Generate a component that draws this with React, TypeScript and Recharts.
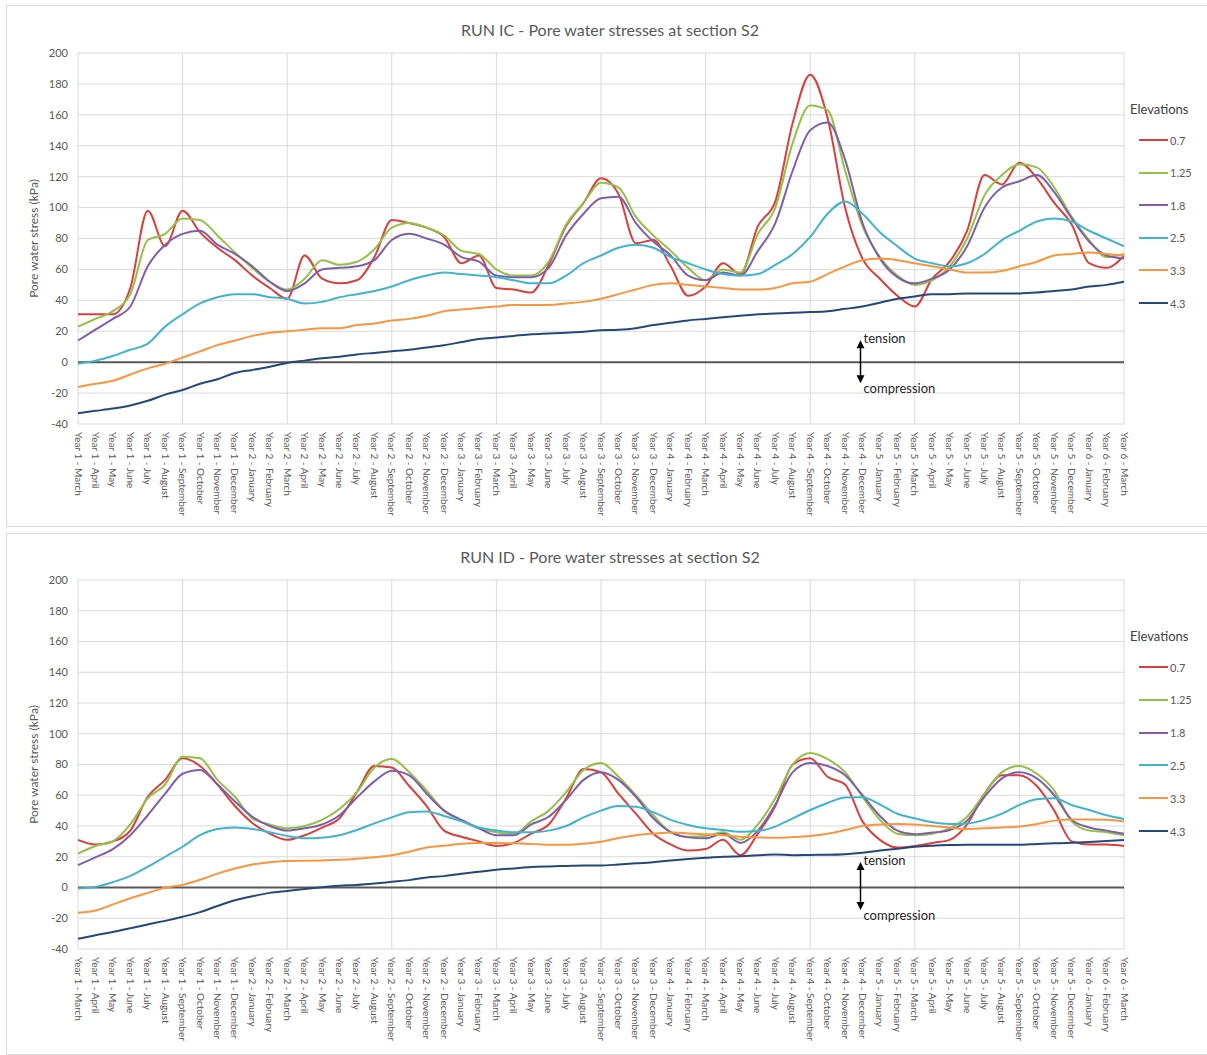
import React from 'react';
import { LineChart, Line, XAxis, YAxis, CartesianGrid, ReferenceLine } from 'recharts';

const FONT = 'Lato, "Liberation Sans", sans-serif';

const MONTH_NAMES = [
  'January', 'February', 'March', 'April', 'May', 'June',
  'July', 'August', 'September', 'October', 'November', 'December',
];

// 61 monthly categories, Year 1 - March .. Year 6 - March
const months: string[] = [];
for (let k = 0; k < 61; k++) {
  const m = (2 + k) % 12;
  const y = 1 + Math.floor((2 + k) / 12);
  months.push(`Year ${y} - ${MONTH_NAMES[m]}`);
}

const ELEVATIONS = ['0.7', '1.25', '1.8', '2.5', '3.3', '4.3'];
const COLORS = ['#d9403c', '#93c047', '#7f5fa9', '#40b4cf', '#f7963f', '#25487a'];
const Y_TICKS = [-40, -20, 0, 20, 40, 60, 80, 100, 120, 140, 160, 180, 200];

// RUN IC
const icE07 = [31, 31, 31, 48, 98, 75, 98, 84, 74, 66, 56, 48, 41, 69, 54, 51, 53, 68, 92, 90, 87, 81, 64, 69, 48, 47, 45, 63, 88, 103, 119, 109, 77, 79, 62, 43, 49, 64, 57, 88, 104, 155, 186, 158, 100, 67, 54, 43, 36, 54, 65, 85, 121, 115, 129, 119, 103, 89, 64, 61, 69];
const icE125 = [23, 28, 33, 44, 79, 83, 93, 92, 82, 71, 61, 52, 47, 54, 66, 63, 65, 73, 87, 90, 87, 82, 72, 70, 60, 56, 56, 65, 89, 103, 116, 113, 94, 82, 72, 61, 53, 60, 58, 83, 100, 142, 166, 163, 124, 88, 68, 56, 50, 53, 62, 80, 108, 121, 128, 126, 113, 94, 79, 68, 70];
const icE18 = [14, 21, 28, 36, 62, 76, 83, 85, 76, 70, 62, 52, 46, 51, 60, 61, 62, 66, 79, 83, 80, 76, 68, 65, 56, 55, 55, 61, 82, 96, 106, 107, 90, 78, 69, 56, 53, 58, 56, 72, 90, 124, 150, 155, 131, 90, 67, 55, 51, 54, 60, 75, 100, 113, 117, 121, 110, 93, 78, 69, 67];
const icE25 = [-1, 1, 4, 8, 12, 23, 31, 38, 42, 44, 44, 42, 41, 38, 39, 42, 44, 46, 49, 53, 56, 58, 57, 56, 55, 53, 51, 51, 56, 64, 69, 74, 76, 74, 68, 64, 60, 57, 56, 57, 63, 70, 81, 96, 104, 96, 84, 75, 67, 64, 62, 64, 70, 79, 85, 91, 93, 91, 85, 80, 75];
const icE33 = [-16, -14, -12, -8, -4, -1, 3, 7, 11, 14, 17, 19, 20, 21, 22, 22, 24, 25, 27, 28, 30, 33, 34, 35, 36, 37, 37, 37, 38, 39, 41, 44, 47, 50, 51, 50, 49, 48, 47, 47, 48, 51, 52, 57, 62, 66, 67, 66, 64, 62, 60, 58, 58, 59, 62, 65, 69, 70, 71, 70, 69];
const icE43 = [-33, -31.5, -30, -28, -25, -21, -18, -14, -11, -7, -5, -3, -0.5, 1, 2.5, 3.5, 5, 6, 7, 8, 9.5, 11, 13, 15, 16, 17, 18, 18.5, 19, 19.6, 20.7, 21, 22, 24, 25.5, 27, 28, 29, 30, 31, 31.5, 32, 32.4, 33, 34.5, 36, 38.5, 41, 42.5, 44, 44, 44.5, 44.5, 44.5, 44.5, 45, 46, 47, 49, 50, 52];

// RUN ID
const idE07 = [31, 28, 30, 37, 59, 70, 84, 79, 67, 53, 42, 35, 31, 34, 39, 45, 62, 79, 78, 66, 53, 37, 33, 30, 27, 29, 35, 41, 58, 77, 75, 61, 48, 35, 28, 24, 25, 31, 21, 35, 53, 80, 84, 72, 67, 43, 31, 26, 27, 29, 31, 41, 61, 73, 73, 66, 50, 30, 28, 28, 27];
const idE125 = [22, 27, 30, 41, 58, 67, 85, 84, 70, 59, 45, 41, 38.5, 40, 44, 51, 62, 78, 83.5, 75, 63, 50, 43.5, 38.5, 36, 35, 43, 50, 62, 76.5, 81, 72, 60, 47, 36, 33, 33.5, 36, 31, 41, 58, 80, 87.5, 83.5, 75, 59, 44, 35, 34, 35, 38.5, 46, 61, 75, 79, 74, 63, 43, 37, 36, 34];
const idE18 = [14.6, 19.6, 25, 34, 47, 61, 74, 76.5, 67, 56, 46, 40, 37, 38.5, 41, 47, 58.5, 69, 76, 73, 61, 50, 44, 38.5, 34, 34, 41, 46, 57, 70, 75, 70, 59, 45, 36, 32.6, 32, 35, 29, 37, 54, 75, 81, 79, 73, 60, 46.5, 37, 34.6, 35.7, 37.4, 43.5, 59, 71, 75, 71, 60, 44, 39, 37, 35];
const idE25 = [-0.6, 0.4, 3.5, 7.6, 13.5, 20, 26.5, 34, 38, 39, 38, 36, 33.5, 32, 32.4, 34, 37.4, 41.7, 45.6, 49, 49.5, 46.5, 43, 39, 37, 36, 36, 37, 40, 45.6, 50, 53, 52.6, 49, 44, 40.7, 38.5, 37.4, 36.3, 36.7, 39.6, 45, 50.4, 55, 58.5, 58.7, 54, 48, 45, 42.4, 41.3, 41.7, 44, 48, 53.7, 57.4, 58, 53.7, 50.4, 47, 44.6];
const idE33 = [-16.5, -15, -11, -7, -3.5, -0.2, 1.7, 5, 9, 12.4, 15, 16.5, 17.2, 17.4, 17.6, 18, 18.7, 19.6, 21, 23.3, 26, 27.2, 28.5, 29, 29, 28.7, 28.3, 27.8, 27.8, 28.5, 29.8, 32.2, 34, 35, 35.7, 35.2, 34.6, 34, 33, 32.6, 32.4, 32.8, 33.5, 35, 37.4, 40, 41, 41.3, 41, 40, 39, 38, 38.5, 39, 39.6, 41.3, 43.5, 44.3, 44.3, 44, 43];
const idE43 = [-33.3, -31, -29, -26.5, -24, -21.7, -19, -16, -12, -8.3, -5.7, -3.5, -2.2, -0.9, 0.2, 1.1, 1.7, 2.6, 3.7, 4.8, 6.5, 7.4, 9, 10.2, 11.5, 12.4, 13.3, 13.7, 14, 14.3, 14.3, 15, 15.7, 16.5, 17.6, 18.5, 19.3, 20, 20.4, 21, 21.5, 21, 21.2, 21.3, 21.7, 22.6, 24, 25.2, 26.5, 27.2, 27.6, 27.8, 27.8, 27.8, 27.8, 28.3, 28.7, 29.1, 29.6, 30.2, 30.9];

const buildRows = (series: number[][]) =>
  months.map((month, i) => {
    const row: Record<string, string | number> = { month };
    ELEVATIONS.forEach((e, k) => { row[e] = series[k][i]; });
    return row;
  });

const icData = buildRows([icE07, icE125, icE18, icE25, icE33, icE43]);
const idData = buildRows([idE07, idE125, idE18, idE25, idE33, idE43]);

const MonthTick = (props: any) => {
  const { x, y, payload } = props;
  return (
    <text
      transform={`translate(${x},${y}) rotate(90)`}
      dy="0.35em"
      textAnchor="start"
      fontSize={10}
      fill="#595959"
      fontFamily={FONT}
    >
      {payload.value}
    </text>
  );
};

const arrowShape = (props: any) => {
  const { x1, y1, y2 } = props;
  const x = x1 - 2;
  const top = Math.min(y1, y2);
  const bot = Math.max(y1, y2);
  return (
    <g>
      <line x1={x} y1={top + 6} x2={x} y2={bot - 6} stroke="#000" strokeWidth={1.5} />
      <polygon points={`${x},${top} ${x - 4},${top + 8} ${x + 4},${top + 8}`} fill="#000" />
      <polygon points={`${x},${bot} ${x - 4},${bot - 8} ${x + 4},${bot - 8}`} fill="#000" />
      <text x={x + 3} y={top + 3} fontSize={13} fill="#262626" fontFamily={FONT}>tension</text>
      <text x={x + 3} y={bot + 10} fontSize={13} fill="#262626" fontFamily={FONT}>compression</text>
    </g>
  );
};

const yLabel = (props: any) => {
  const { viewBox } = props;
  const cx = viewBox.x - 4;
  const cy = viewBox.y + viewBox.height / 2;
  return (
    <text
      transform={`translate(${cx},${cy}) rotate(-90)`}
      textAnchor="middle"
      dy="0.35em"
      fontSize={12}
      fill="#595959"
      fontFamily={FONT}
    >
      Pore water stress (kPa)
    </text>
  );
};

interface PanelProps {
  title: string;
  data: Record<string, string | number>[];
  top: number;
  height: number;
  plotTop: number;
  plotHeight: number;
  titleY: number;
  legendY: number;
  legendStep: number;
  arrowTop: number;
  arrowBottom: number;
}

const Panel: React.FC<PanelProps> = ({
  title, data, top, height, plotTop, plotHeight, titleY, legendY, legendStep, arrowTop, arrowBottom,
}) => {
  const xAxisHeight = 100;
  return (
    <div style={{ position: 'absolute', left: 0, top, width: 1207, height }}>
      <div style={{ position: 'absolute', left: 6, top: 5, right: -2, bottom: 0, border: '1px solid #d9d9d9', background: '#fff' }} />
      <div style={{ position: 'absolute', left: 0, width: 1220, top: titleY - 10, textAlign: 'center', fontSize: 16, color: '#595959', fontFamily: FONT, lineHeight: '20px' }}>
        {title}
      </div>
      <div style={{ position: 'absolute', left: 0, top: 0 }}>
        <LineChart
          width={1207}
          height={height}
          data={data}
          margin={{ top: plotTop, left: 38, right: 83, bottom: height - plotTop - plotHeight - xAxisHeight }}
        >
          <CartesianGrid vertical={false} stroke="#d9d9d9" />
          {months.filter((_, i) => i % 6 === 0).map((m) => (
            <ReferenceLine key={m} x={m} stroke="#d9d9d9" strokeWidth={1} />
          ))}
          <XAxis
            dataKey="month"
            interval={0}
            tick={<MonthTick />}
            tickLine={false}
            axisLine={false}
            height={xAxisHeight}
          />
          <YAxis
            domain={[-40, 200]}
            ticks={Y_TICKS}
            type="number"
            width={40}
            tickLine={false}
            axisLine={false}
            tickMargin={4}
            tick={{ fontSize: 11, fill: '#595959', fontFamily: FONT }}
            label={yLabel}
          />
          <ReferenceLine y={0} stroke="#595959" strokeWidth={2} />
          {ELEVATIONS.map((e, k) => (
            <Line
              key={e}
              dataKey={e}
              type="monotone"
              stroke={COLORS[k]}
              strokeWidth={2}
              dot={false}
              isAnimationActive={false}
            />
          ))}
          <ReferenceLine
            segment={[{ x: months[45], y: arrowTop }, { x: months[45], y: arrowBottom }]}
            shape={arrowShape}
          />
        </LineChart>
      </div>
      <div style={{ position: 'absolute', left: 1130, top: legendY - 30 - 9, fontSize: 13, color: '#404040', fontFamily: FONT }}>
        Elevations
      </div>
      {ELEVATIONS.map((e, k) => (
        <div key={e} style={{ position: 'absolute', left: 1139, top: legendY + k * legendStep - 8, height: 16, display: 'flex', alignItems: 'center', fontFamily: FONT }}>
          <div style={{ width: 29, height: 2, background: COLORS[k] }} />
          <span style={{ marginLeft: 2, fontSize: 11, color: '#595959' }}>{e}</span>
        </div>
      ))}
    </div>
  );
};

export default function App() {
  return (
    <div style={{ position: 'absolute', left: 0, top: 0, width: 1207, height: 1055, background: '#fff', overflow: 'hidden' }}>
      <Panel
        title="RUN IC - Pore water stresses at section S2"
        data={icData}
        top={0}
        height={527}
        plotTop={53}
        plotHeight={371}
        titleY={30}
        legendY={140}
        legendStep={32.6}
        arrowTop={14.2}
        arrowBottom={-13.6}
      />
      <Panel
        title="RUN ID - Pore water stresses at section S2"
        data={idData}
        top={528}
        height={527}
        plotTop={52}
        plotHeight={369}
        titleY={29}
        legendY={139}
        legendStep={32.8}
        arrowTop={16.6}
        arrowBottom={-14.6}
      />
    </div>
  );
}
